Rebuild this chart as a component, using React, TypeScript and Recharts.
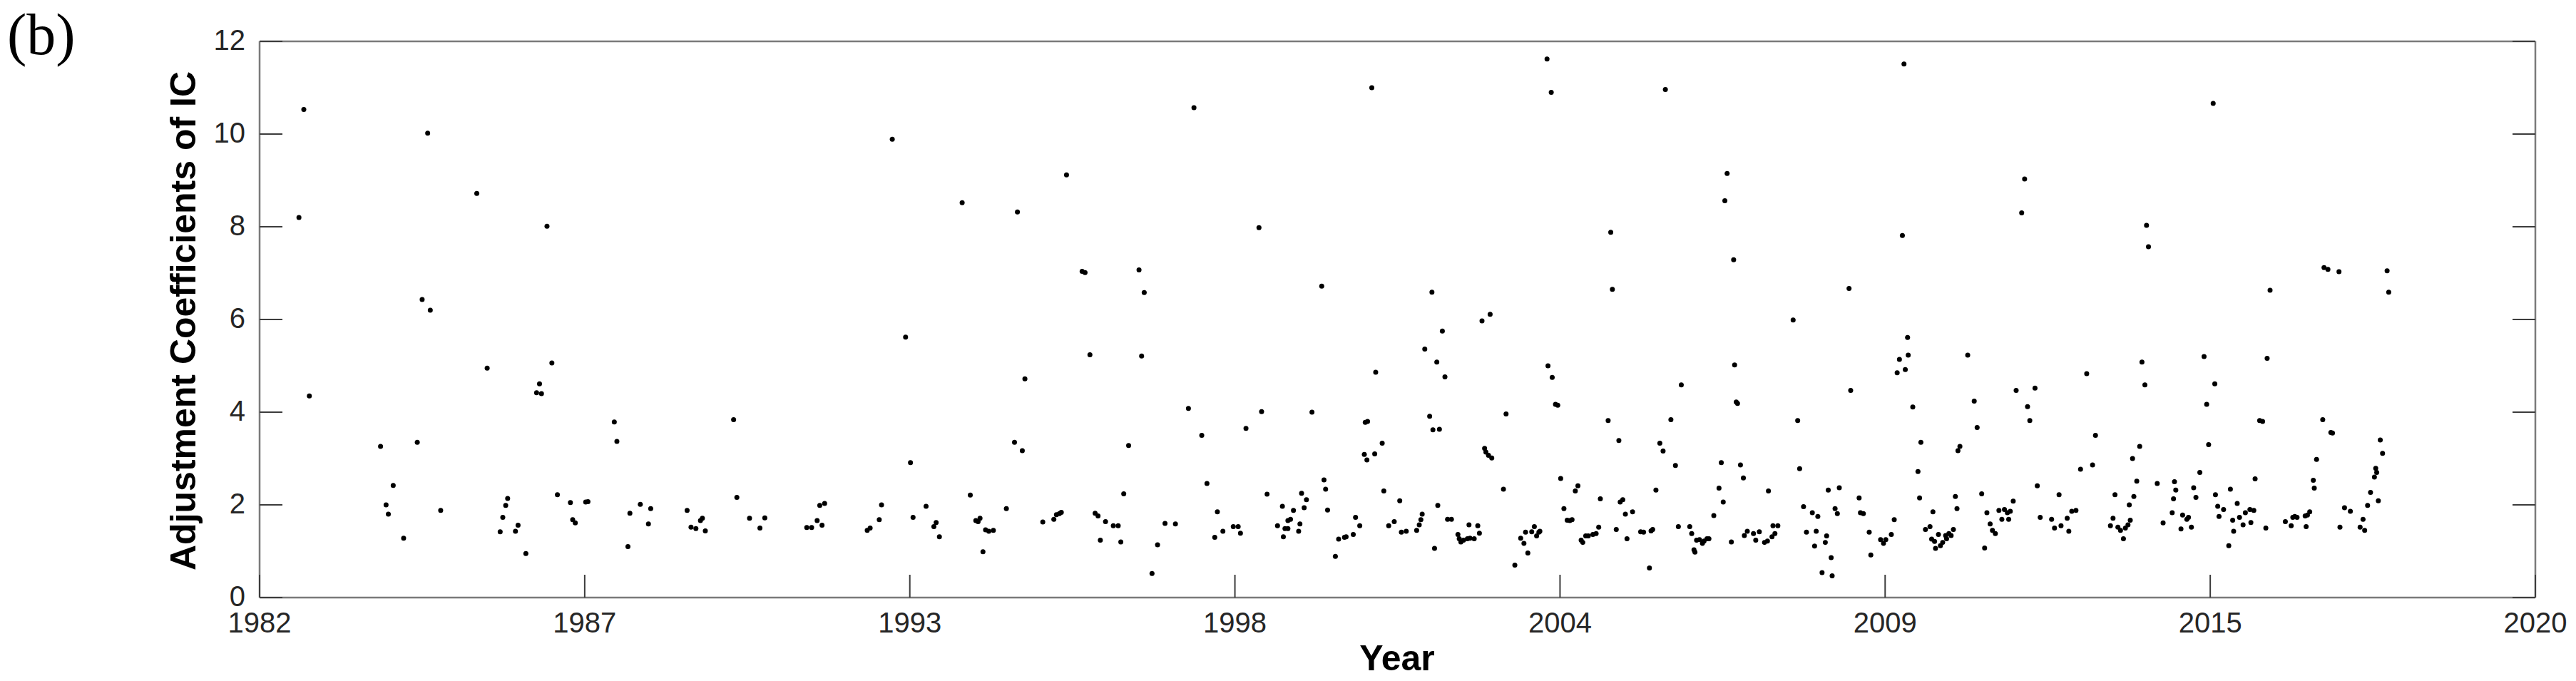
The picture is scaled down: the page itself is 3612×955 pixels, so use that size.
import { ScatterChart, Scatter, XAxis, YAxis } from 'recharts';

// x is the position along the time axis in tick intervals (0 = 1982 tick, 7 = 2020 tick)
const yearLabels = ['1982', '1987', '1993', '1998', '2004', '2009', '2015', '2020'];
const xTicks = [0, 1, 2, 3, 4, 5, 6, 7];
const yTicks = [0, 2, 4, 6, 8, 10, 12];

const span1982: [number, number][] = [
  [0.121, 8.2], [0.136, 10.53], [0.153, 4.35], [0.372, 3.26], [0.389, 2.0], [0.396, 1.8], [0.411, 2.42],
  [0.443, 1.28], [0.485, 3.35], [0.5, 6.43], [0.517, 10.02], [0.525, 6.2], [0.557, 1.88], [0.668, 8.72],
  [0.7, 4.95], [0.74, 1.42], [0.748, 1.73], [0.757, 1.99], [0.763, 2.14], [0.787, 1.43], [0.795, 1.56],
  [0.819, 0.95], [0.852, 4.42], [0.861, 4.61], [0.867, 4.4], [0.884, 8.01], [0.899, 5.06], [0.916, 2.22],
  [0.956, 2.05], [0.963, 1.68], [0.971, 1.61],
];

const span1987: [number, number][] = [
  [1.003, 2.06], [1.01, 2.07], [1.091, 3.79], [1.099, 3.37], [1.133, 1.1], [1.139, 1.82], [1.171, 2.01],
  [1.196, 1.59], [1.203, 1.92], [1.315, 1.88], [1.327, 1.52], [1.342, 1.49], [1.356, 1.66], [1.362, 1.71],
  [1.371, 1.44], [1.458, 3.84], [1.468, 2.16], [1.507, 1.71], [1.539, 1.5], [1.554, 1.72], [1.683, 1.51],
  [1.698, 1.51], [1.715, 1.66], [1.723, 1.99], [1.73, 1.56], [1.738, 2.03], [1.869, 1.45], [1.878, 1.5],
  [1.906, 1.68], [1.913, 2.0], [1.946, 9.89], [1.987, 5.62],
];

const span1993: [number, number][] = [
  [2.002, 2.91], [2.01, 1.73], [2.05, 1.97], [2.074, 1.53], [2.081, 1.62], [2.091, 1.31], [2.161, 8.52],
  [2.186, 2.21], [2.203, 1.66], [2.21, 1.64], [2.216, 1.71], [2.225, 0.99], [2.233, 1.46], [2.243, 1.43],
  [2.257, 1.45], [2.297, 1.92], [2.322, 3.35], [2.331, 8.32], [2.346, 3.17], [2.354, 4.72], [2.409, 1.63],
  [2.443, 1.69], [2.451, 1.79], [2.46, 1.81], [2.466, 1.84], [2.482, 9.12], [2.53, 7.04], [2.539, 7.01],
  [2.554, 5.24], [2.57, 1.82], [2.579, 1.76], [2.586, 1.24], [2.602, 1.64], [2.626, 1.55], [2.641, 1.55],
  [2.649, 1.2], [2.658, 2.24], [2.673, 3.28], [2.705, 7.07], [2.713, 5.21], [2.721, 6.58], [2.745, 0.52],
  [2.762, 1.14], [2.785, 1.6], [2.817, 1.59], [2.857, 4.08], [2.874, 10.57], [2.898, 3.5], [2.914, 2.46],
  [2.938, 1.3], [2.946, 1.85], [2.963, 1.43], [2.995, 1.53],
];

const span1998: [number, number][] = [
  [3.01, 1.53], [3.017, 1.39], [3.034, 3.65], [3.074, 7.98], [3.082, 4.01], [3.099, 2.23], [3.131, 1.55],
  [3.146, 1.97], [3.149, 1.31], [3.154, 1.49], [3.163, 1.49], [3.163, 1.66], [3.171, 1.69], [3.18, 1.88],
  [3.196, 1.43], [3.2, 1.59], [3.205, 2.25], [3.213, 1.94], [3.22, 2.11], [3.237, 4.0], [3.267, 6.72],
  [3.274, 2.54], [3.279, 2.34], [3.285, 1.89], [3.309, 0.89], [3.319, 1.26], [3.337, 1.3], [3.342, 1.31],
  [3.364, 1.36], [3.371, 1.73], [3.384, 1.55], [3.398, 3.09], [3.401, 3.78], [3.408, 3.8], [3.406, 2.97],
  [3.421, 11.0], [3.43, 3.1], [3.433, 4.86], [3.453, 3.33], [3.458, 2.3], [3.473, 1.55], [3.49, 1.64],
  [3.507, 2.09], [3.512, 1.41], [3.527, 1.43], [3.559, 1.45], [3.567, 1.57], [3.572, 1.68], [3.576, 1.8],
  [3.584, 5.36], [3.599, 3.91], [3.606, 6.59], [3.609, 3.62], [3.614, 1.06], [3.621, 5.08], [3.624, 1.99],
  [3.629, 3.63], [3.638, 5.75], [3.646, 4.76], [3.654, 1.69], [3.666, 1.69], [3.686, 1.36], [3.69, 1.27],
  [3.695, 1.2], [3.703, 1.24], [3.715, 1.27], [3.72, 1.57], [3.723, 1.28], [3.736, 1.27], [3.747, 1.55],
  [3.752, 1.39], [3.76, 5.97], [3.768, 3.22], [3.772, 3.14], [3.78, 3.07], [3.785, 6.11], [3.79, 3.01],
  [3.826, 2.34], [3.834, 3.96], [3.861, 0.7], [3.879, 1.28], [3.889, 1.17], [3.894, 1.41], [3.901, 0.96],
  [3.913, 1.42], [3.921, 1.53], [3.928, 1.33], [3.935, 1.41], [3.938, 1.43], [3.96, 11.62], [3.963, 5.0],
  [3.973, 10.9], [3.976, 4.75], [3.986, 4.17], [3.993, 4.15],
];

const span2004: [number, number][] = [
  [4.002, 2.57], [4.012, 1.92], [4.022, 1.67], [4.03, 1.66], [4.037, 1.68], [4.047, 2.3], [4.055, 2.41],
  [4.065, 1.24], [4.07, 1.19], [4.079, 1.33], [4.087, 1.33], [4.101, 1.36], [4.111, 1.38], [4.119, 1.52],
  [4.124, 2.13], [4.148, 3.82], [4.156, 7.88], [4.161, 6.65], [4.173, 1.47], [4.181, 3.39], [4.185, 2.06],
  [4.193, 2.11], [4.201, 1.8], [4.206, 1.27], [4.223, 1.85], [4.248, 1.42], [4.257, 1.41], [4.275, 0.64],
  [4.28, 1.44], [4.285, 1.47], [4.295, 2.32], [4.307, 3.33], [4.317, 3.16], [4.324, 10.96], [4.341, 3.84],
  [4.355, 2.85], [4.373, 4.59], [4.364, 1.53], [4.399, 1.53], [4.405, 1.38], [4.412, 1.03], [4.415, 0.98],
  [4.42, 1.24], [4.429, 1.25], [4.438, 1.17], [4.443, 1.22], [4.452, 1.27], [4.458, 1.27], [4.473, 1.77],
  [4.489, 2.36], [4.496, 2.91], [4.502, 2.06], [4.507, 8.56], [4.514, 9.15], [4.527, 1.2], [4.534, 7.29],
  [4.537, 5.02], [4.542, 4.22], [4.546, 4.19], [4.555, 2.86], [4.564, 2.58], [4.567, 1.34], [4.576, 1.43],
  [4.595, 1.38], [4.602, 1.24], [4.613, 1.42], [4.629, 1.19], [4.638, 1.22], [4.641, 2.3], [4.652, 1.31],
  [4.655, 1.55], [4.661, 1.38], [4.67, 1.55], [4.717, 5.99], [4.731, 3.82], [4.737, 2.78], [4.749, 1.96],
  [4.758, 1.41], [4.776, 1.83], [4.783, 1.11], [4.788, 1.43], [4.793, 1.75], [4.806, 0.54], [4.816, 1.19],
  [4.82, 1.33], [4.825, 2.32], [4.834, 0.86], [4.837, 0.47], [4.846, 1.92], [4.853, 1.81], [4.859, 2.37],
  [4.889, 6.67], [4.894, 4.47], [4.92, 2.15], [4.924, 1.83], [4.933, 1.81], [4.951, 1.41], [4.956, 0.92],
  [4.986, 1.25], [4.995, 1.17],
];

const span2009: [number, number][] = [
  [5.002, 1.25], [5.019, 1.36], [5.028, 1.68], [5.037, 4.85], [5.044, 5.14], [5.053, 7.81], [5.058, 11.51],
  [5.062, 4.92], [5.071, 5.23], [5.069, 5.61], [5.085, 4.11], [5.101, 2.72], [5.106, 2.15], [5.11, 3.35],
  [5.124, 1.47], [5.138, 1.53], [5.143, 1.26], [5.147, 1.85], [5.152, 1.21], [5.155, 1.06], [5.164, 1.36],
  [5.17, 1.12], [5.177, 1.19], [5.186, 1.34], [5.189, 1.27], [5.196, 1.38], [5.203, 1.34], [5.21, 1.47],
  [5.216, 2.18], [5.221, 1.92], [5.224, 3.17], [5.23, 3.26], [5.254, 5.23], [5.274, 4.24], [5.283, 3.67],
  [5.297, 2.24], [5.306, 1.07], [5.313, 1.83], [5.323, 1.59], [5.33, 1.45], [5.339, 1.38], [5.35, 1.88],
  [5.359, 1.69], [5.367, 1.9], [5.376, 1.83], [5.38, 1.69], [5.385, 1.86], [5.394, 2.08], [5.403, 4.47],
  [5.42, 8.3], [5.429, 9.03], [5.438, 4.12], [5.445, 3.82], [5.461, 4.52], [5.468, 2.41], [5.477, 1.73],
  [5.512, 1.69], [5.521, 1.5], [5.535, 2.22], [5.541, 1.55], [5.56, 1.71], [5.565, 1.43], [5.574, 1.86],
  [5.587, 1.88], [5.601, 2.77], [5.62, 4.83], [5.638, 2.86], [5.647, 3.5], [5.693, 1.55], [5.701, 1.71],
  [5.707, 2.22], [5.716, 1.52], [5.724, 1.45], [5.733, 1.27], [5.739, 1.5], [5.747, 1.57], [5.751, 2.0],
  [5.754, 1.67], [5.761, 3.0], [5.765, 2.18], [5.774, 2.51], [5.783, 3.26], [5.79, 5.08], [5.799, 4.59],
  [5.804, 8.03], [5.81, 7.57], [5.837, 2.46], [5.855, 1.61], [5.883, 1.83], [5.887, 2.13], [5.89, 2.5],
  [5.894, 2.32], [5.91, 1.48], [5.915, 1.78], [5.928, 1.69], [5.933, 1.73], [5.942, 1.52], [5.949, 2.37],
  [5.956, 2.16], [5.968, 2.7], [5.981, 5.2], [5.989, 4.17], [5.995, 3.3],
];

const span2015: [number, number][] = [
  [6.009, 10.66], [6.014, 4.61], [6.016, 2.22], [6.023, 1.97], [6.027, 1.75], [6.041, 1.9], [6.057, 1.12],
  [6.062, 2.34], [6.069, 1.67], [6.072, 1.43], [6.083, 2.03], [6.09, 1.73], [6.101, 1.57], [6.108, 1.83],
  [6.122, 1.9], [6.125, 1.62], [6.134, 1.88], [6.138, 2.56], [6.152, 3.82], [6.161, 3.8], [6.171, 1.5],
  [6.175, 5.16], [6.184, 6.63], [6.231, 1.64], [6.249, 1.55], [6.254, 1.73], [6.26, 1.75], [6.267, 1.73],
  [6.292, 1.76], [6.295, 1.53], [6.299, 1.78], [6.306, 1.85], [6.317, 2.53], [6.32, 2.36], [6.327, 2.98],
  [6.346, 3.84], [6.35, 7.12], [6.362, 7.08], [6.371, 3.56], [6.376, 3.55], [6.396, 7.03], [6.399, 1.52],
  [6.413, 1.94], [6.431, 1.86], [6.461, 1.52], [6.47, 1.69], [6.475, 1.45], [6.484, 1.99], [6.493, 2.27],
  [6.505, 2.6], [6.509, 2.79], [6.512, 2.7], [6.517, 2.09], [6.523, 3.4], [6.53, 3.11], [6.544, 7.05],
  [6.549, 6.59],
];

const points = [...span1982, ...span1987, ...span1993, ...span1998, ...span2004, ...span2009, ...span2015]
  .map(([t, v]) => ({ t, v }));

const sans = '"Liberation Sans", Arial, Helvetica, sans-serif';
const boxColor = '#7a7a7a';
const tickColor = '#3c3c3c';
const labelColor = '#262626';
const TICK_LEN = 32;

const Dot = (props: any) => <circle cx={props.cx} cy={props.cy} r={3.5} fill="#000" />;

// ticks point into the plot; labels sit outside on bottom and left only
const BottomTick = ({ x, y, payload }: any) => (
  <g>
    <line x1={x} x2={x} y1={y} y2={y - TICK_LEN} stroke={tickColor} strokeWidth={2} />
    <text x={x} y={y + 49} textAnchor="middle" fontSize={40} fontFamily={sans} fill={labelColor}>
      {yearLabels[payload.value]}
    </text>
  </g>
);

const TopTick = ({ x, y }: any) => (
  <line x1={x} x2={x} y1={y} y2={y + TICK_LEN} stroke={tickColor} strokeWidth={2} />
);

const LeftTick = ({ x, y, payload }: any) => (
  <g>
    <line x1={x} x2={x + TICK_LEN} y1={y} y2={y} stroke={tickColor} strokeWidth={2} />
    <text x={x - 20} y={y + 12} textAnchor="end" fontSize={40} fontFamily={sans} fill={labelColor}>
      {payload.value}
    </text>
  </g>
);

const RightTick = ({ x, y }: any) => (
  <line x1={x} x2={x - TICK_LEN} y1={y} y2={y} stroke={tickColor} strokeWidth={2} />
);

export default function App() {
  const axisLineStyle = { stroke: boxColor, strokeWidth: 2.5 };

  return (
    <div style={{ position: 'absolute', left: 0, top: 0, width: 3612, height: 955, background: '#fff' }}>
      <ScatterChart width={3612} height={955} margin={{ top: 57, right: 56, bottom: 116, left: 363 }}>
        <XAxis
          xAxisId="main" dataKey="t" type="number" domain={[0, 7]} ticks={xTicks} allowDataOverflow
          orientation="bottom" height={1} tickSize={0} tickMargin={0} tickLine={false}
          axisLine={axisLineStyle} tick={BottomTick} interval={0}
        />
        <XAxis
          xAxisId="top" type="number" domain={[0, 7]} ticks={xTicks} allowDataOverflow
          orientation="top" height={1} tickSize={0} tickMargin={0} tickLine={false}
          axisLine={axisLineStyle} tick={TopTick} interval={0}
        />
        <YAxis
          yAxisId="main" dataKey="v" type="number" domain={[0, 12]} ticks={yTicks} allowDataOverflow
          orientation="left" width={1} tickSize={0} tickMargin={0} tickLine={false}
          axisLine={axisLineStyle} tick={LeftTick} interval={0}
        />
        <YAxis
          yAxisId="right" type="number" domain={[0, 12]} ticks={yTicks} allowDataOverflow
          orientation="right" width={1} tickSize={0} tickMargin={0} tickLine={false}
          axisLine={axisLineStyle} tick={RightTick} interval={0}
        />
        <Scatter
          data={points} xAxisId="main" yAxisId="main" fill="#000"
          shape={Dot} isAnimationActive={false}
        />
      </ScatterChart>
      <svg width={3612} height={955} style={{ position: 'absolute', left: 0, top: 0, pointerEvents: 'none' }}>
        <text x={10} y={76} fontFamily='"Liberation Serif", "Times New Roman", serif' fontSize={82} fill="#000">
          (b)
        </text>
        <text
          x={274} y={450} transform="rotate(-90 274 450)" textAnchor="middle"
          fontFamily={sans} fontWeight="bold" fontSize={50} fill="#000"
        >
          Adjustment Coefficients of IC
        </text>
        <text x={1959} y={940} textAnchor="middle" fontFamily={sans} fontWeight="bold" fontSize={50} fill="#000">
          Year
        </text>
      </svg>
    </div>
  );
}
